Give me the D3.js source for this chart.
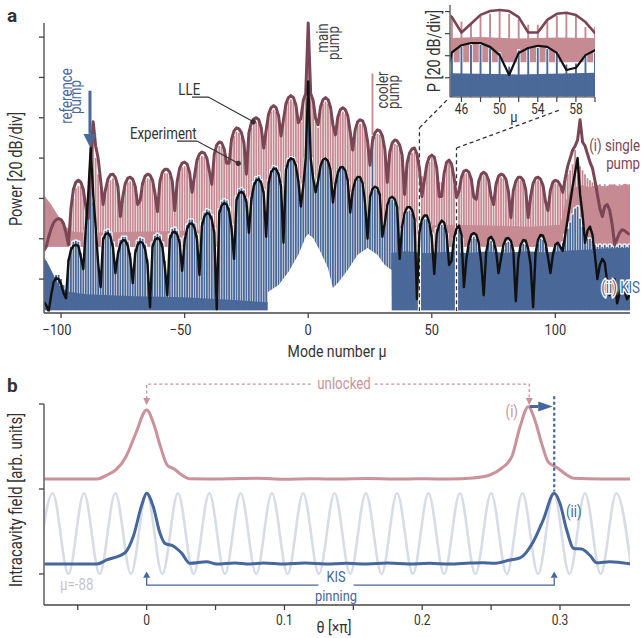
<!DOCTYPE html>
<html>
<head>
<meta charset="utf-8">
<script src="https://d3js.org/d3.v7.min.js"></script>
<style>
  body { margin: 0; background: #fff; }
  text { font-family: Roboto, "DejaVu Sans Condensed", sans-serif; }
</style>
</head>
<body>
<script>
const width = 642;
const height = 638;

// ---------- panel a : power of every comb mode in dB, modes -107 ... 130
const firstMode = -107;

// LLE simulation, (i) single pump
const lleSingle = [
  34, 36, 41, 45, 48, 49.5, 50, 49.5, 47.5, 43,
  37, 55, 64.5, 68, 69, 68, 64.5, 56, 50, 78,
  98, 86, 80, 69, 57, 64.5, 69.7, 71.7, 72, 70.3,
  66, 51, 61, 67.5, 70, 70.5, 69.5, 66, 57, 59,
  67.5, 71, 72, 71.5, 69, 62.5, 53.5, 68.5, 73, 74.5,
  74.5, 73, 68.5, 54, 68.5, 75, 77.5, 78, 77, 73,
  63, 71, 79, 82, 83, 82.5, 80, 73.5, 67, 82,
  86.5, 88, 87.5, 84.5, 77.5, 77.5, 89.5, 93.5, 95, 94.5,
  92.5, 87.5, 72, 92.5, 97.5, 99.5, 100, 99, 95, 85,
  94, 102, 105, 106, 105, 101, 91, 99, 107, 110,
  111, 110, 106.5, 97.5, 99.5, 108.5, 112, 147, 112, 108.5,
  99.5, 96.5, 105.5, 109, 110, 109, 105.5, 96.5, 91.5, 100.5,
  104, 105, 104, 101, 93, 84, 94, 98, 99, 98.5,
  95.5, 88.5, 76.5, 88.5, 92.5, 94, 93.5, 91, 84.5, 68,
  83, 87.5, 89, 88.5, 86.5, 81.5, 62, 77.5, 82.5, 84.5,
  85, 82, 75, 61, 69, 77, 80.5, 81.5, 80.5, 75,
  61, 61, 72.5, 78, 79, 77, 70.5, 60.5, 63.5, 70.5,
  73.5, 74, 73, 69.5, 60.5, 59.5, 68.5, 72, 73, 72,
  69, 61, 57, 67, 71, 72, 71.5, 69.5, 63.5, 50.5,
  64, 68.5, 70.5, 70.5, 69, 64.5, 50.5, 61, 67.5, 70,
  70.5, 69.5, 66.5, 58.5, 54, 64, 68, 69, 68.5, 66.5,
  63, 70, 76, 80, 84, 86, 89, 99, 88, 86,
  82, 78, 75, 69, 62, 55, 51, 56, 57, 54,
  47, 37, 40, 43, 44.5, 44, 43, 42
];

// LLE simulation, (ii) KIS
const lleKis = [
  9, 7, 4, 12, 18.5, 20.5, 20, 17.5, 13, 10.5,
  29, 34.5, 36.5, 37, 36.5, 31, 25, 45, 62, 85,
  62, 46, 28, 16, 39.5, 42.3, 42.8, 41, 35.7, 23,
  32.3, 37.5, 39.3, 39.1, 36.5, 30.5, 18, 32.8, 37.1, 38.5,
  37.9, 34.9, 27.3, 6, 35.9, 39.5, 40.4, 39.5, 35.9, 26,
  12, 39.9, 42.9, 43.5, 42.1, 37.8, 24, 39, 45, 47.5,
  47.6, 45.5, 39.8, 22, 46.4, 51.1, 52.7, 52.3, 49.6, 42.9,
  5, 52.6, 56.6, 57.7, 57, 53.5, 44.9, 30, 59.1, 62.6,
  63.3, 62.1, 58.2, 43, 59.5, 66.3, 69, 69.5, 67.6, 62.4,
  41, 67.8, 73, 74.8, 74.6, 72, 66, 38, 74.2, 78.5,
  79.9, 79.3, 76.3, 68.7, 56, 66, 80, 118, 80, 70,
  63, 68.7, 76.3, 79.3, 79.9, 78.5, 74.2, 58, 66.9, 72.9,
  75.4, 75.6, 73.8, 68.6, 53, 63.7, 68.9, 70.7, 70.5, 67.6,
  58, 40, 60.7, 64.6, 65.8, 65.1, 61.7, 41, 48, 56.7,
  60.1, 60.8, 59.6, 55.7, 30, 46, 52.7, 55.5, 55.8, 54.3,
  49.6, 10, 43, 49.5, 51.5, 51.5, 48, 40.5, 22.5, 42.5,
  47, 49, 48, 42.5, 27, 29, 40.5, 45, 46.5, 42,
  16, 30, 38, 42, 42.8, 42, 38, 28, 12, 33,
  40, 41, 39, 34, 23, 30, 37, 40, 40.4, 39,
  34, 9, 30, 37, 39.4, 39, 35, 27, 6, 33,
  39.5, 41.9, 41.5, 38, 31, 23, 32, 37, 38, 36,
  34, 42, 50, 58, 66, 73, 80, 62, 52, 38,
  44, 46, 42, 32, 20, 27, 30, 28, 18, 12,
  19, 20, 8, 13, 16, 14, 10, 12
];

// measured comb line peaks, (i) single pump
const expSingle = [
  58, 56, 54, 52, 50, 48, 48, 47, 46, 44,
  44, 52, 60, 65, 66, 66, 63, 56, 60, 90,
  94, 80, 72, 64, 58, 62, 67, 69, 70, 68,
  64, 55, 60, 65, 68, 68.5, 67.5, 64, 58, 59,
  65, 69, 70, 69.5, 67, 62, 57, 66, 71, 72.5,
  72.5, 71, 67, 58, 66, 72.5, 75.5, 76, 75, 71,
  64, 69, 76.5, 80, 81, 80.5, 78, 72, 68, 79.5,
  84, 86, 85.5, 82.5, 77, 77, 87, 91, 93, 92.5,
  90.5, 86, 75, 90, 95, 97.5, 98, 97, 93, 85,
  92, 99.5, 103, 104, 103, 99, 91, 97, 104.5, 108,
  109, 108, 104.5, 97, 98, 106, 110, 140, 110, 106,
  98, 95, 103, 107, 108, 107, 103, 95, 91, 98.5,
  102, 103, 102, 99, 92, 85, 92, 96, 97, 96.5,
  93.5, 87, 78, 122, 90.5, 92, 91.5, 89, 83, 72,
  81, 85.5, 87, 86.5, 84.5, 80, 66, 76, 80.5, 82.5,
  83, 80.5, 75, 71, 70, 76, 78, 80, 78, 73,
  68, 68, 71, 76, 78, 76, 66, 66, 64, 69,
  72, 72.5, 71.5, 68, 61, 60, 67, 70.5, 71.5, 70.5,
  67.5, 61, 58, 65.5, 69.5, 70.5, 70, 68, 62, 53,
  62.5, 67, 69, 69, 67.5, 63, 53, 60, 66, 68.5,
  69, 68, 65, 58, 55, 63, 66.5, 67.5, 67, 65,
  64, 70, 72, 74, 77, 84, 80, 76, 74, 72,
  70, 69, 68, 67, 66, 67, 66, 67, 66, 67,
  66, 67, 66, 67, 66, 67, 66, 67
];

// measured comb line peaks, (ii) KIS
const expKis = [
  30, 29, 26, 22, 21, 22, 22, 20, 17, 15,
  30, 36, 38.5, 39, 38.5, 33, 28, 44, 58, 83,
  58, 44, 30, 20, 41, 44, 44.5, 43, 38, 27,
  34, 39.5, 41, 41, 38.5, 33, 22, 35, 39, 40.5,
  40, 37, 30, 15, 38, 41.5, 42.5, 41.5, 38, 29,
  16, 42, 45, 45.5, 44, 40, 28, 41, 47, 49.5,
  49.5, 47.5, 42, 26, 48.5, 53, 54.5, 54, 51.5, 45,
  15, 54.5, 58.5, 59.5, 59, 55.5, 47, 33, 61, 64.5,
  65, 64, 60, 46, 61, 68, 70.5, 71, 69, 64,
  44, 69, 74, 76, 75.5, 73, 67, 41, 75, 79.5,
  80.5, 80, 77, 69.5, 58, 67, 80, 105, 80, 71,
  64, 69, 76.5, 79.5, 80, 78.5, 74, 59, 66.5, 72.5,
  75, 75, 73, 68, 54, 63, 68, 70, 69.5, 66.5,
  58, 42, 60, 91, 64.5, 64, 60.5, 42, 48, 55.5,
  59, 59.5, 58, 54, 34, 45, 51, 53.5, 54, 52.5,
  48, 30, 42, 48, 49.7, 49.7, 46.7, 42.5, 30, 45,
  46, 47, 46, 42.5, 32, 33, 40, 43, 44.5, 40,
  30, 33, 36, 40, 41, 40, 36, 32, 30, 34,
  38, 39, 37, 33, 30, 32, 35, 38, 38.5, 37,
  33, 30, 32, 35, 37.5, 37, 34, 30, 30, 33,
  37.5, 40, 39.5, 36, 31, 30, 33, 36, 37, 36,
  38, 42, 45, 48, 52, 55, 56, 50, 46, 42,
  40, 40, 39, 37, 36, 37, 36, 37, 36, 37,
  36, 37, 36, 37, 36, 37, 36, 37
];

// noise floors of the two measurements [mode, dB]
const floorSingle = [[-107.5, 62.5], [-104, 57], [-101, 51], [-98, 46], [-95, 43.5], [-90, 43],
  [-70, 43.5], [-50, 44], [-30, 45], [0, 47], [30, 46], [60, 47], [90, 46], [102, 47],
  [104, 58], [106, 64], [108, 65.5], [111, 66.5], [114, 65.5], [117, 66.8], [120, 65.8],
  [123, 67], [126, 66], [128, 67.3], [130.5, 66.5]];
const floorKis = [[-107.5, 32], [-105, 27], [-103, 22], [-101, 17], [-98, 14], [-90, 12.5],
  [-70, 11.5], [-50, 11], [-30, 9.6], [-17, 8.5], [0, 8], [20, 9], [33.5, 10],
  [33.6, 33], [40, 33.8], [48, 32.8], [56, 33.6], [64, 32.9], [72, 33.7], [80, 33],
  [88, 33.8], [96, 33.2], [104, 34], [112, 34.6], [120, 35.2], [130.5, 35.5]];
// white gap below the centre of the KIS spectrum [mode, dB]
const gapKis = [[-16.4, 4], [-16.3, 13.6], [-12, 17], [-8, 23.5], [-4, 32], [-1, 40.9], [0, 42.3],
  [2, 40.4], [5, 33.4], [8, 25.5], [10, 15.6], [12, 18], [16, 24.5], [20, 32], [24, 35.4],
  [28, 32], [31, 27], [33.7, 24.5], [33.8, 4]];

const modeTicks = [-100, -50, 0, 50, 100];
const powerTicks = [20, 40, 60, 80, 100, 120, 140];

// inset (zoom on modes 45 ... 60)
const insetTicks = [46, 48, 50, 52, 54, 56, 58, 60];
const insetLabels = [46, 50, 54, 58];
const insetPowerTicks = [20, 40, 60, 80];
const insetFloorSingle = [[44.5, 56], [48, 57], [52, 55.5], [56, 56.5], [60.5, 56]];
const insetFloorKis = [[44.5, 24], [52, 23], [60.5, 24.5]];

// ---------- panel b : intracavity field vs theta (x pi)
const thetaSingle = [-0.075, -0.036, -0.028, -0.022, -0.015, -0.008, 0, 0.005, 0.010, 0.015,
  0.020, 0.025, 0.031, 0.045, 0.06, 0.08, 0.10, 0.12, 0.14, 0.16, 0.18, 0.20, 0.22, 0.237,
  0.249, 0.2576, 0.265, 0.271, 0.277, 0.2818, 0.2866, 0.2914, 0.2975, 0.305, 0.31, 0.33, 0.352];
const fieldSingle = [1.118, 1.118, 1.17, 1.23, 1.38, 1.65, 1.93, 1.77, 1.50, 1.28,
  1.235, 1.17, 1.12, 1.118, 1.12, 1.125, 1.115, 1.12, 1.118, 1.122, 1.118, 1.12, 1.118, 1.13,
  1.165, 1.244, 1.38, 1.733, 1.968, 1.81, 1.54, 1.32, 1.255, 1.165, 1.126, 1.118, 1.118];
const thetaKis = [-0.075, -0.036, -0.029, -0.0157, -0.0097, -0.0036, 0, 0.0048, 0.0097, 0.0133,
  0.0193, 0.0254, 0.0314, 0.0435, 0.0508, 0.064, 0.075, 0.0846, 0.10, 0.115, 0.13, 0.145, 0.16,
  0.175, 0.19, 0.205, 0.22, 0.235, 0.244, 0.252, 0.2637, 0.271, 0.2806, 0.2878, 0.2958, 0.30,
  0.3048, 0.31, 0.3157, 0.3217, 0.3266, 0.336, 0.352];
const fieldKis = [0.118, 0.118, 0.165, 0.25, 0.44, 0.81, 0.95, 0.79, 0.48, 0.36,
  0.33, 0.245, 0.125, 0.145, 0.118, 0.13, 0.118, 0.13, 0.118, 0.128, 0.118, 0.125, 0.118,
  0.128, 0.118, 0.125, 0.118, 0.13, 0.133, 0.125, 0.165, 0.19, 0.38, 0.635, 0.95, 0.83,
  0.52, 0.30, 0.294, 0.22, 0.133, 0.145, 0.118];
// reference mode mu = -88, its crests and troughs
const thetaRef = [-0.0795, -0.0682, -0.0568, -0.0455, -0.0341, -0.0227, -0.0114, 0, 0.0114, 0.0227,
  0.0341, 0.0455, 0.0568, 0.0682, 0.0795, 0.0909, 0.1023, 0.1136, 0.125, 0.1364, 0.1477, 0.1591,
  0.1705, 0.1818, 0.1932, 0.2045, 0.2159, 0.2273, 0.2386, 0.25, 0.2614, 0.2727, 0.2841, 0.2955,
  0.3068, 0.3182, 0.3295, 0.3409, 0.3523];
const fieldRef = [0, 0.95, 0, 0.95, 0, 0.95, 0, 0.95, 0, 0.95, 0, 0.95, 0, 0.95, 0, 0.95, 0, 0.95,
  0, 0.95, 0, 0.95, 0, 0.95, 0, 0.95, 0, 0.95, 0, 0.95, 0, 0.95, 0, 0.95, 0, 0.95, 0, 0.95, 0];
const thetaTicks = [-0.05, 0, 0.05, 0.1, 0.15, 0.2, 0.25, 0.3];
const thetaLabels = [0, 0.1, 0.2, 0.3];
const fieldTicks = [0, 1, 2];

// colours
const maroon = "#7a4656", pink = "#c68a93", blue = "#4a6898", ink = "#333";
const pinkB = "#cb929b", blueB = "#45679b", grayB = "#d7dce7";
// the figure uses a condensed face: squeeze Roboto horizontally
const squeeze = 0.83;

var svg = d3.select("body").append("svg")
  .attr("width", width)
  .attr("height", height);

var xA = d3.scaleLinear().domain([-106.9, 130.2]).range([44, 630]);
var yA = d3.scaleLinear().domain([0, 140]).range([319.4, 37.1]);
var xI = d3.scaleLinear().domain([44.8, 60]).range([450, 595]);
var yI = d3.scaleLinear().domain([2.5, 86]).range([97, 5]);
var xB = d3.scaleLinear().domain([-0.0745, 0.3508]).range([44, 630]);
var yB = d3.scaleLinear().domain([-0.365, 2]).range([605, 404]);

var defs = svg.append("defs");
defs.append("clipPath").attr("id", "clipA").append("rect")
  .attr("x", 44.6).attr("y", 20).attr("width", 585.4).attr("height", 291.5);
defs.append("clipPath").attr("id", "clipI").append("rect")
  .attr("x", 450.6).attr("y", 5).attr("width", 144.4).attr("height", 91.4);
defs.append("clipPath").attr("id", "clipB").append("rect")
  .attr("x", 44.6).attr("y", 390).attr("width", 585.4).attr("height", 214);

// text helper: position, optional rotation, condensed glyphs
function label(x, y, str, o) {
  var g = svg.append("g")
    .attr("transform", "translate(" + x + "," + y + ")" + (o.rot ? " rotate(-90)" : "") +
      " scale(" + (o.sx || squeeze) + ",1)");
  var t = g.append("text")
    .attr("text-anchor", o.anchor || "start")
    .style("font-size", o.size + "px")
    .style("fill", o.color || ink)
    .text(str);
  if (o.weight) t.style("font-weight", o.weight);
  if (o.halo) t.attr("stroke", "#fff").attr("stroke-width", o.halo).attr("paint-order", "stroke");
  return t;
}

// one rectangle per comb mode
function barsPath(x, y, values, base, half) {
  var p = d3.path();
  values.forEach(function(v, i) {
    var m = firstMode + i;
    if (v <= base) return;
    p.rect(x(m - half), y(v), x(m + half) - x(m - half), y(base) - y(v));
  });
  return p.toString();
}

function drawSpectra(g, x, y, o) {
  // (i) measured: floor band and comb lines
  g.append("path").datum(o.floorSingle)
    .attr("d", d3.area().x(d => x(d[0])).y0(y(o.baseSingle)).y1(d => y(d[1])))
    .attr("fill", pink);
  g.append("path").attr("d", barsPath(x, y, expSingle, o.baseSingle, o.half)).attr("fill", pink);

  // (ii) measured, with a white halo round it
  var floorD = d3.area().x(d => x(d[0])).y0(y(o.baseKis)).y1(d => y(d[1]))(o.floorKis);
  var barsD = barsPath(x, y, expKis, o.baseKis, o.half);
  [floorD, barsD].forEach(function(d) {
    g.append("path").attr("d", d).attr("fill", "none")
      .attr("stroke", "#fff").attr("stroke-width", o.halo).attr("stroke-linejoin", "round");
  });
  [floorD, barsD].forEach(function(d) {
    g.append("path").attr("d", d).attr("fill", blue);
  });
}

function drawLle(g, x, y, w1, w2) {
  var line = d3.line().x((d, i) => x(firstMode + i)).y(d => y(d));
  g.append("path").datum(lleSingle).attr("d", line)
    .attr("fill", "none").attr("stroke", maroon).attr("stroke-width", w1).attr("stroke-linejoin", "round");
  g.append("path").datum(lleKis).attr("d", line)
    .attr("fill", "none").attr("stroke", "#111").attr("stroke-width", w2).attr("stroke-linejoin", "round");
}

// ================= panel a =================
var gA = svg.append("g").attr("clip-path", "url(#clipA)");
drawSpectra(gA, xA, yA, {
  floorSingle: floorSingle, floorKis: floorKis,
  baseSingle: 36, baseKis: 4.5, half: 0.37, halo: 2.4
});

// white gap under the centre of spectrum (ii)
gA.append("path").datum(gapKis)
  .attr("d", d3.area().x(d => xA(d[0])).y0(yA(4)).y1(d => yA(d[1])))
  .attr("fill", "#fff");

// zoom window markers
var zoomWin = [[45, 95], [60, 85]];
zoomWin.forEach(function(z) {
  gA.append("line").attr("x1", xA(z[0])).attr("x2", xA(z[0]))
    .attr("y1", yA(4)).attr("y2", yA(z[1])).attr("stroke", "#fff").attr("stroke-width", 3.2);
  gA.append("line").attr("x1", xA(z[0])).attr("x2", xA(z[0]))
    .attr("y1", yA(4)).attr("y2", yA(z[1])).attr("stroke", ink)
    .attr("stroke-width", 1.3).attr("stroke-dasharray", "4,3");
});

drawLle(gA, xA, yA, 3, 2.4);

// connectors to the inset
var corners = [[xI(44.8), yI(2.5), 0.9], [xI(60), yI(2.5), 0.75]];
zoomWin.forEach(function(z, i) {
  var x0 = xA(z[0]), y0 = yA(z[1]), c = corners[i];
  svg.append("line").attr("x1", x0).attr("y1", y0)
    .attr("x2", x0 + (c[0] - x0) * c[2]).attr("y2", y0 + (c[1] - y0) * c[2])
    .attr("stroke", ink).attr("stroke-width", 1.3).attr("stroke-dasharray", "4,3");
});

// axes of panel a
svg.append("line").attr("x1", 44).attr("x2", 44).attr("y1", 23).attr("y2", 313)
  .attr("stroke", "#444").attr("stroke-width", 1.3);
svg.append("line").attr("x1", 44).attr("x2", 630).attr("y1", 313).attr("y2", 313)
  .attr("stroke", "#444").attr("stroke-width", 1.3);
svg.selectAll(".ytA").data(powerTicks).enter().append("line")
  .attr("x1", 39).attr("x2", 44).attr("y1", d => yA(d)).attr("y2", d => yA(d))
  .attr("stroke", "#444").attr("stroke-width", 1.3);
svg.selectAll(".xtA").data(modeTicks).enter().append("line")
  .attr("x1", d => xA(d)).attr("x2", d => xA(d)).attr("y1", 313).attr("y2", 318)
  .attr("stroke", "#444").attr("stroke-width", 1.3);
// digits centred on the tick, minus sign hanging to the left
modeTicks.forEach(function(d) {
  label(xA(d) - (d < 0 ? 4 : 0), 335, d3.format("")(d), { size: 15.5, anchor: "middle" });
});

label(337, 357, "Mode number μ", { size: 17, anchor: "middle" });
label(22, 169, "Power [20 dB/div]", { size: 17.5, anchor: "middle", rot: true });
label(7, 22, "a", { size: 19, weight: "bold", sx: 1 });

// ---------- inset
var gI = svg.append("g").attr("clip-path", "url(#clipI)");
drawSpectra(gI, xI, yI, {
  floorSingle: insetFloorSingle, floorKis: insetFloorKis,
  baseSingle: 34, baseKis: 2.5, half: 0.1, halo: 1.6
});
drawLle(gI, xI, yI, 2.6, 2.2);

svg.append("line").attr("x1", 450).attr("x2", 450).attr("y1", 5).attr("y2", 97)
  .attr("stroke", "#444").attr("stroke-width", 1.2);
svg.append("line").attr("x1", 450).attr("x2", 595).attr("y1", 97).attr("y2", 97)
  .attr("stroke", "#444").attr("stroke-width", 1.2);
svg.selectAll(".ytI").data(insetPowerTicks).enter().append("line")
  .attr("x1", 445).attr("x2", 450).attr("y1", d => yI(d)).attr("y2", d => yI(d))
  .attr("stroke", "#444").attr("stroke-width", 1.2);
svg.selectAll(".xtI").data(insetTicks).enter().append("line")
  .attr("x1", d => xI(d)).attr("x2", d => xI(d)).attr("y1", 97).attr("y2", 102)
  .attr("stroke", "#444").attr("stroke-width", 1.2);
insetLabels.forEach(function(d) {
  label(xI(d), 114, d, { size: 14.5, anchor: "middle" });
});
label(xI(51.5), 122, "μ", { size: 15.5, anchor: "middle" });
label(440, 51, "P [20 dB/div]", { size: 17.5, anchor: "middle", rot: true });

// ---------- annotations of panel a
label(72, 96, "reference", { size: 16, anchor: "middle", rot: true, color: blue });
label(81, 97, "pump", { size: 16, anchor: "middle", rot: true, color: blue });
var refX = xA(-88.3);
svg.append("line").attr("x1", refX).attr("x2", refX).attr("y1", yA(113.4)).attr("y2", yA(92))
  .attr("stroke", blue).attr("stroke-width", 3);
svg.append("path")
  .attr("d", "M" + (refX - 6.5) + "," + yA(92) + "L" + (refX + 6.5) + "," + yA(92) + "L" + refX + "," + yA(85.5) + "Z")
  .attr("fill", blue);

label(328, 38, "main", { size: 16, anchor: "middle", rot: true, color: "#444" });
label(339, 43, "pump", { size: 16, anchor: "middle", rot: true, color: "#444" });
label(388, 90, "cooler", { size: 16, anchor: "middle", rot: true, color: "#444" });
label(399, 92, "pump", { size: 16, anchor: "middle", rot: true, color: "#444" });

var leaders = [
  { mu: -22.2, db: 98, text: "LLE", tx: -75, ty: -26.7, lx: -61.3, cx: -45, ly: -24.7 },
  { mu: -28.3, db: 77.4, text: "Experiment", tx: -108.3, ty: -24.3, lx: -61.3, cx: -41.3, ly: -22.3 }
];
leaders.forEach(function(a) {
  var px = xA(a.mu), py = yA(a.db);
  svg.append("path")
    .attr("d", "M" + (px + a.lx) + "," + (py + a.ly) + "H" + (px + a.cx) + "L" + px + "," + py)
    .attr("fill", "none").attr("stroke", ink).attr("stroke-width", 1.2);
  svg.append("circle").attr("cx", px).attr("cy", py).attr("r", 2.6).attr("fill", ink);
  label(px + a.tx, py + a.ty, a.text, { size: 16 });
});

label(640, 151, "(i) single", { size: 16, anchor: "end", color: maroon });
label(640, 169, "pump", { size: 16, anchor: "end", color: maroon });
label(640, 293, "(ii) KIS", { size: 16, anchor: "end", color: blue, halo: 3 });

// ================= panel b =================
var gB = svg.append("g").attr("clip-path", "url(#clipB)");
gB.append("path").datum(thetaRef.map((t, i) => [t, fieldRef[i]]))
  .attr("d", d3.line().x(d => xB(d[0])).y(d => yB(d[1])).curve(d3.curveMonotoneX))
  .attr("fill", "none").attr("stroke", grayB).attr("stroke-width", 2.6);
gB.append("path").datum(thetaSingle.map((t, i) => [t, fieldSingle[i]]))
  .attr("d", d3.line().x(d => xB(d[0])).y(d => yB(d[1])).curve(d3.curveMonotoneX))
  .attr("fill", "none").attr("stroke", pinkB).attr("stroke-width", 3);
gB.append("path").datum(thetaKis.map((t, i) => [t, fieldKis[i]]))
  .attr("d", d3.line().x(d => xB(d[0])).y(d => yB(d[1])).curve(d3.curveMonotoneX))
  .attr("fill", "none").attr("stroke", blueB).attr("stroke-width", 3);

// axes of panel b
svg.append("line").attr("x1", 44).attr("x2", 44).attr("y1", 404).attr("y2", 605)
  .attr("stroke", "#444").attr("stroke-width", 1.3);
svg.append("line").attr("x1", 44).attr("x2", 630).attr("y1", 605).attr("y2", 605)
  .attr("stroke", "#444").attr("stroke-width", 1.3);
svg.selectAll(".ytB").data(fieldTicks).enter().append("line")
  .attr("x1", 39).attr("x2", 44).attr("y1", d => yB(d)).attr("y2", d => yB(d))
  .attr("stroke", "#444").attr("stroke-width", 1.3);
svg.selectAll(".xtB").data(thetaTicks).enter().append("line")
  .attr("x1", d => xB(d)).attr("x2", d => xB(d)).attr("y1", 605).attr("y2", 610)
  .attr("stroke", "#444").attr("stroke-width", 1.3);
thetaLabels.forEach(function(d) {
  label(xB(d), 625, d, { size: 14.5, anchor: "middle" });
});
label(334, 633, "θ [×π]", { size: 17, anchor: "middle" });
label(22, 500, "Intracavity field [arb. units]", { size: 18, anchor: "middle", rot: true });
label(7, 392, "b", { size: 19, weight: "bold", sx: 1 });

// unlocked bracket between the two peaks of (i)
var peakSingle = [0, 0.2777], peakKis = [0, 0.2958];
var unl = label(344, yB(2.235) + 5, "unlocked", { size: 16, anchor: "middle", color: pinkB });
var uw = unl.node().getComputedTextLength() * squeeze / 2 + 4;
svg.append("path")
  .attr("d", "M" + xB(peakSingle[0]) + "," + yB(2.06) + "V" + yB(2.235) + "H" + (344 - uw) +
    "M" + (344 + uw) + "," + yB(2.235) + "H" + xB(peakSingle[1]) + "V" + yB(2.06))
  .attr("fill", "none").attr("stroke", pinkB).attr("stroke-width", 1.3).attr("stroke-dasharray", "3,2.5");
peakSingle.forEach(function(t) {
  var px = xB(t);
  svg.append("path")
    .attr("d", "M" + (px - 3.5) + "," + yB(2.07) + "L" + (px + 3.5) + "," + yB(2.07) + "L" + px + "," + yB(1.985) + "Z")
    .attr("fill", pinkB);
});
label(xB(0.2695), yB(1.847), "(i)", { size: 16, anchor: "end", color: pinkB });

// shift arrow and pinned position
svg.append("line").attr("x1", xB(0.278)).attr("x2", xB(0.2845)).attr("y1", yB(1.97)).attr("y2", yB(1.97))
  .attr("stroke", blueB).attr("stroke-width", 3);
svg.append("path")
  .attr("d", "M" + xB(0.2842) + "," + (yB(1.97) - 5) + "L" + xB(0.2947) + "," + yB(1.97) + "L" + xB(0.2842) + "," + (yB(1.97) + 5) + "Z")
  .attr("fill", blueB);
svg.append("line").attr("x1", xB(peakKis[1])).attr("x2", xB(peakKis[1])).attr("y1", yB(2.09)).attr("y2", yB(0.97))
  .attr("stroke", blueB).attr("stroke-width", 2.2).attr("stroke-dasharray", "3,2.5");
label(xB(0.3043), yB(0.67), "(ii)", { size: 16, color: blueB });
label(xB(-0.0629), yB(-0.188), "μ=-88", { size: 16, color: "#c4c6cc" });

// KIS pinning bracket
var kis = label(336, 582, "KIS", { size: 15.5, anchor: "middle", color: blueB });
label(336, 601, "pinning", { size: 15.5, anchor: "middle", color: blueB });
var kw = kis.node().getComputedTextLength() * squeeze / 2 + 8;
svg.append("path")
  .attr("d", "M" + xB(peakKis[0]) + "," + yB(-0.045) + "V" + yB(-0.13) + "H" + (336 - kw) +
    "M" + (336 + kw) + "," + yB(-0.13) + "H" + xB(peakKis[1]) + "V" + yB(-0.045))
  .attr("fill", "none").attr("stroke", blueB).attr("stroke-width", 1.3);
peakKis.forEach(function(t) {
  var px = xB(t);
  svg.append("path")
    .attr("d", "M" + (px - 3.5) + "," + yB(-0.045) + "L" + (px + 3.5) + "," + yB(-0.045) + "L" + px + "," + yB(0.03) + "Z")
    .attr("fill", blueB);
});
</script>
</body>
</html>
